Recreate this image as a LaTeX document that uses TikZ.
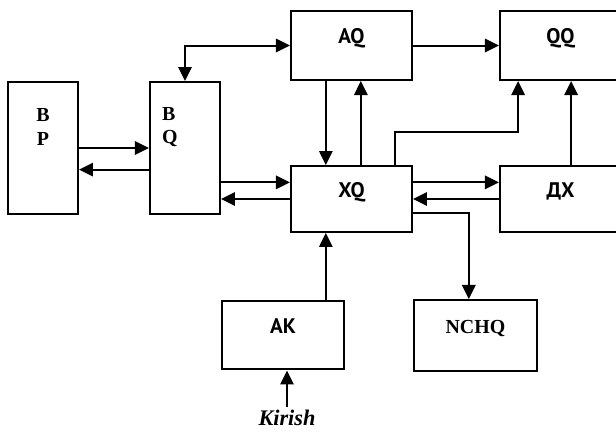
\documentclass[tikz,border=0pt]{standalone}
\usepackage{fontspec}
\setmainfont{Liberation Serif}
\setsansfont{PT Sans}
\usetikzlibrary{arrows.meta, positioning, calc}

\begin{document}
\begin{tikzpicture}[node distance=2cm, auto]
    % Node Styles
    \tikzstyle{block} = [rectangle, draw, line width=1.7pt, minimum width=3.63cm, minimum height=2.07cm, text height=0.45cm, text depth=0.55cm, font=\sffamily\bfseries\fontsize{18}{20}\selectfont]
    \tikzstyle{tall} = [rectangle, draw, line width=1.7pt, minimum width=2.1cm, minimum height=3.96cm]
    \tikzstyle{tag} = [inner sep=0pt, font=\bfseries\fontsize{17}{20}\selectfont]
    \tikzstyle{line} = [draw, line width=1.7pt, -{Triangle[length=4.2mm, width=4mm]}]
    \tikzstyle{both} = [line, {Triangle[length=4.2mm, width=4mm]}-{Triangle[length=4.2mm, width=4mm]}]

    \useasboundingbox (-1.29,-8.61) rectangle (17.19,4.44);

    % Left column
    \node [tall] (bp) at (0,0) {};
    \node [tall, right=2.1cm of bp] (bq) {};
    \node [tag, align=center] (bp-txt) at ([yshift=0.63cm]bp.center) {B\\P};
    \node [tag, align=left] (bq-txt) at ([xshift=-0.45cm, yshift=0.63cm]bq.center) {B\\Q};

    % Upper row
    \node [block, right=2.07cm of bq.north east, anchor=south west] (aq) {AQ};
    \node [block, right=2.58cm of aq] (qq) {QQ};

    % Middle row
    \node [block, minimum height=1.98cm, below=2.52cm of aq] (xq) {XQ};
    \node [block, minimum height=1.98cm, below=2.52cm of qq] (dx) {ДХ};

    % Lower row
    \node [block, minimum width=3.69cm, minimum height=2.13cm, font=\rmfamily\bfseries\fontsize{17}{20}\selectfont, below=1.98cm of xq.south east, anchor=north west] (nchq) {NCHQ};
    \node [block, minimum width=3.66cm, minimum height=2.04cm, left=2.04cm of nchq] (ak) {AK};
    \node [tag, inner sep=2pt, font=\bfseries\itshape\fontsize{19}{21}\selectfont, below=1.1cm of ak, xshift=0.12cm] (kirish) {Kirish};

    % Connectors
    \draw [line] (bp.east) -- (bq.west);
    \draw [line] ($(bq.west)+(0,-0.65)$) -- ($(bp.east)+(0,-0.65)$);
    \draw [line] ($(bq.east |- xq.west)+(0,0.5)$) -- ($(xq.west)+(0,0.5)$);
    \draw [line] (xq.west) -- (bq.east |- xq.west);
    \draw [both] (bq.north) |- (aq.west);
    \draw [line] (aq) -- (qq);
    \draw [line] ($(aq.south)+(-0.77,0)$) -- ($(xq.north)+(-0.77,0)$);
    \draw [line] ($(xq.north)+(0.28,0)$) -- ($(aq.south)+(0.28,0)$);
    \draw [line] ($(xq.north)+(1.3,0)$) -- ++(0,0.99) -| ($(qq.south)+(-1.27,0)$);
    \draw [line] ($(dx.north)+(0.32,0)$) -- ($(qq.south)+(0.32,0)$);
    \draw [line] ($(xq.east)+(0,0.5)$) -- ($(dx.west)+(0,0.5)$);
    \draw [line] (dx.west) -- (xq.east);
    \draw [line] ($(xq.east)+(0,-0.42)$) -| ($(nchq.north)+(-0.2,0)$);
    \coordinate (ak-in) at ($(xq.south)+(-0.77,0)$);
    \draw [line] (ak-in |- ak.north) -- (ak-in);
    \draw [line] (kirish.north) -- (kirish.north |- ak.south);
\end{tikzpicture}
\end{document}
